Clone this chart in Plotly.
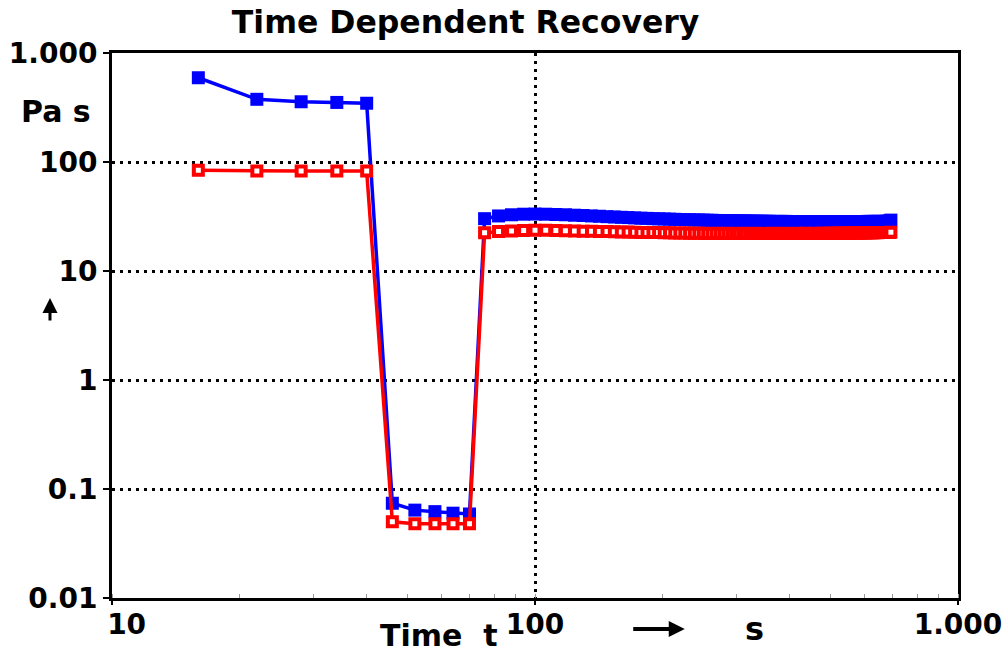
import plotly.graph_objects as go

# ---- data ----
time_s = [16, 22, 28, 34, 40,
          46, 52, 58, 64, 70,
          76, 82, 88, 94, 100, 106, 112, 118, 124, 130,
          136, 142, 148, 154, 160, 166, 172, 178, 184, 190,
          196, 202, 208, 214, 220, 226, 232, 238, 244, 250,
          256, 262, 268, 274, 280, 286, 292, 298, 304, 310,
          316, 322, 328, 334, 340, 346, 352, 358, 364, 370,
          376, 382, 388, 394, 400, 406, 412, 418, 424, 430,
          436, 442, 448, 454, 460, 466, 472, 478, 484, 490,
          496, 502, 508, 514, 520, 526, 532, 538, 544, 550,
          556, 562, 568, 574, 580, 586, 592, 598, 604, 610,
          616, 622, 628, 634, 640, 646, 652, 658, 664, 670,
          676, 682, 688, 694]

eta_blue = [593, 376, 357, 352, 346,
            0.074, 0.064, 0.062, 0.060, 0.059,
            30.2, 32.0, 32.8, 33.2, 33.3, 33.2, 33.0, 32.8, 32.5, 32.3,
            32.0, 31.8, 31.5, 31.3, 31.1, 30.9, 30.7, 30.5, 30.4, 30.2,
            30.1, 30.0, 29.9, 29.8, 29.7, 29.6, 29.5, 29.4, 29.4, 29.3,
            29.2, 29.2, 29.1, 29.0, 29.0, 28.9, 28.9, 28.9, 28.8, 28.8,
            28.8, 28.7, 28.7, 28.7, 28.6, 28.6, 28.6, 28.6, 28.5, 28.5,
            28.5, 28.5, 28.5, 28.5, 28.4, 28.4, 28.4, 28.4, 28.4, 28.4,
            28.4, 28.4, 28.4, 28.4, 28.4, 28.4, 28.4, 28.4, 28.4, 28.4,
            28.4, 28.4, 28.4, 28.4, 28.4, 28.4, 28.4, 28.4, 28.4, 28.4,
            28.4, 28.4, 28.4, 28.4, 28.4, 28.4, 28.4, 28.4, 28.4, 28.5,
            28.5, 28.5, 28.5, 28.5, 28.5, 28.5, 28.5, 28.5, 28.5, 28.5,
            28.6, 28.6, 28.8, 29.3]

eta_red = [84, 82.6, 82.6, 82.6, 82.6,
           0.050, 0.048, 0.048, 0.048, 0.048,
           22.4, 23.0, 23.3, 23.5, 23.6, 23.6, 23.5, 23.4, 23.3, 23.2,
           23.1, 23.0, 23.0, 22.9, 22.8, 22.8, 22.7, 22.6, 22.6, 22.5,
           22.5, 22.4, 22.4, 22.3, 22.3, 22.3, 22.2, 22.2, 22.2, 22.2,
           22.1, 22.1, 22.2, 22.1, 22.1, 22.2, 22.1, 22.1, 22.1, 22.2,
           22.1, 22.1, 22.1, 22.2, 22.1, 22.1, 22.1, 22.1, 22.2, 22.1,
           22.1, 22.1, 22.2, 22.1, 22.1, 22.1, 22.1, 22.2, 22.1, 22.1,
           22.2, 22.1, 22.1, 22.1, 22.2, 22.1, 22.1, 22.2, 22.1, 22.2,
           22.2, 22.2, 22.1, 22.2, 22.2, 22.2, 22.2, 22.3, 22.2, 22.2,
           22.3, 22.2, 22.3, 22.3, 22.3, 22.3, 22.3, 22.4, 22.3, 22.4,
           22.4, 22.4, 22.4, 22.4, 22.5, 22.4, 22.5, 22.5, 22.5, 22.5,
           22.5, 22.5, 22.6, 22.7]

x_tickvals = [10, 100, 1000]
x_ticktext = ["\u00a0\u00a0\u00a010", "100", "1.000"]
y_tickvals = [0.01, 0.1, 1, 10, 100, 1000]
y_ticktext = ["0.01", "0.1", "1", "10", "100", "1.000"]

FONT = "DejaVu Sans"
BLUE = "#0000ff"
RED = "#ff0000"

fig = go.Figure()
fig.add_trace(go.Scatter(
    x=time_s, y=eta_blue, mode="lines+markers",
    line=dict(color=BLUE, width=3.5),
    marker=dict(symbol="square", size=13, color=BLUE, line=dict(width=0)),
    showlegend=False,
))
fig.add_trace(go.Scatter(
    x=time_s, y=eta_red, mode="lines+markers",
    line=dict(color=RED, width=3.5),
    marker=dict(symbol="square", size=9, color="white", line=dict(color=RED, width=4)),
    showlegend=False,
))

axis_common = dict(
    showline=True, linecolor="black", linewidth=3, mirror=True,
    showgrid=True, gridcolor="black", gridwidth=3, griddash="3px,5px",
    zeroline=False, automargin=False, ticklabeloverflow="allow",
)

fig.update_xaxes(
    type="log", range=[1, 3],
    tickvals=x_tickvals, ticktext=x_ticktext,
    ticks="outside", ticklen=4, tickwidth=2, tickcolor="black",
    ticklabelstandoff=-5,
    tickfont=dict(family=FONT, size=28, color="black", weight="bold"),
    minor=dict(ticks="inside", ticklen=4, tickwidth=1, tickcolor="#999999", dtick="D1", showgrid=False),
    **axis_common,
)
fig.update_yaxes(
    type="log", range=[-2, 3],
    tickvals=y_tickvals, ticktext=y_ticktext,
    ticks="outside", ticklen=6, tickwidth=2, tickcolor="black",
    tickfont=dict(family=FONT, size=28, color="black", weight="bold"),
    **axis_common,
)

fig.update_layout(
    width=1005, height=655,
    margin=dict(l=112, r=47, t=53, b=57, autoexpand=False),
    paper_bgcolor="white", plot_bgcolor="white",
    title=dict(
        text="Time Dependent Recovery",
        font=dict(family=FONT, size=31.5, color="black", weight="bold"),
        xref="paper", x=0.418, xanchor="center",
        yref="container", y=0.966, yanchor="middle",
        automargin=False,
    ),
)

bold = dict(family=FONT, color="black", weight="bold")
fig.add_annotation(text="Pa s", xref="paper", yref="paper", x=-0.066, y=0.893,
                   showarrow=False, font=dict(size=30, **bold), xanchor="center", yanchor="middle")
fig.add_annotation(text="", xref="paper", yref="paper", x=-0.0733, y=0.5505,
                   showarrow=True, ax=0, ay=24, arrowhead=2, arrowsize=1, arrowwidth=3,
                   arrowcolor="black")
fig.add_annotation(text="Time\u00a0\u00a0t", xref="paper", yref="paper", x=0.3865, y=-0.1046,
                   showarrow=False, font=dict(size=30, **bold), xanchor="center", yanchor="bottom")
fig.add_annotation(text="", xref="paper", yref="paper", x=0.677, y=-0.0569,
                   showarrow=True, ax=-53, ay=0, arrowhead=2, arrowsize=0.8, arrowwidth=4,
                   arrowcolor="black")
fig.add_annotation(text="s", xref="paper", yref="paper", x=0.759, y=-0.0569,
                   showarrow=False, font=dict(size=32, **bold), xanchor="center", yanchor="middle")

fig.write_html("out.html", config={"displayModeBar": False},
               post_script="document.body.style.margin='0';")
